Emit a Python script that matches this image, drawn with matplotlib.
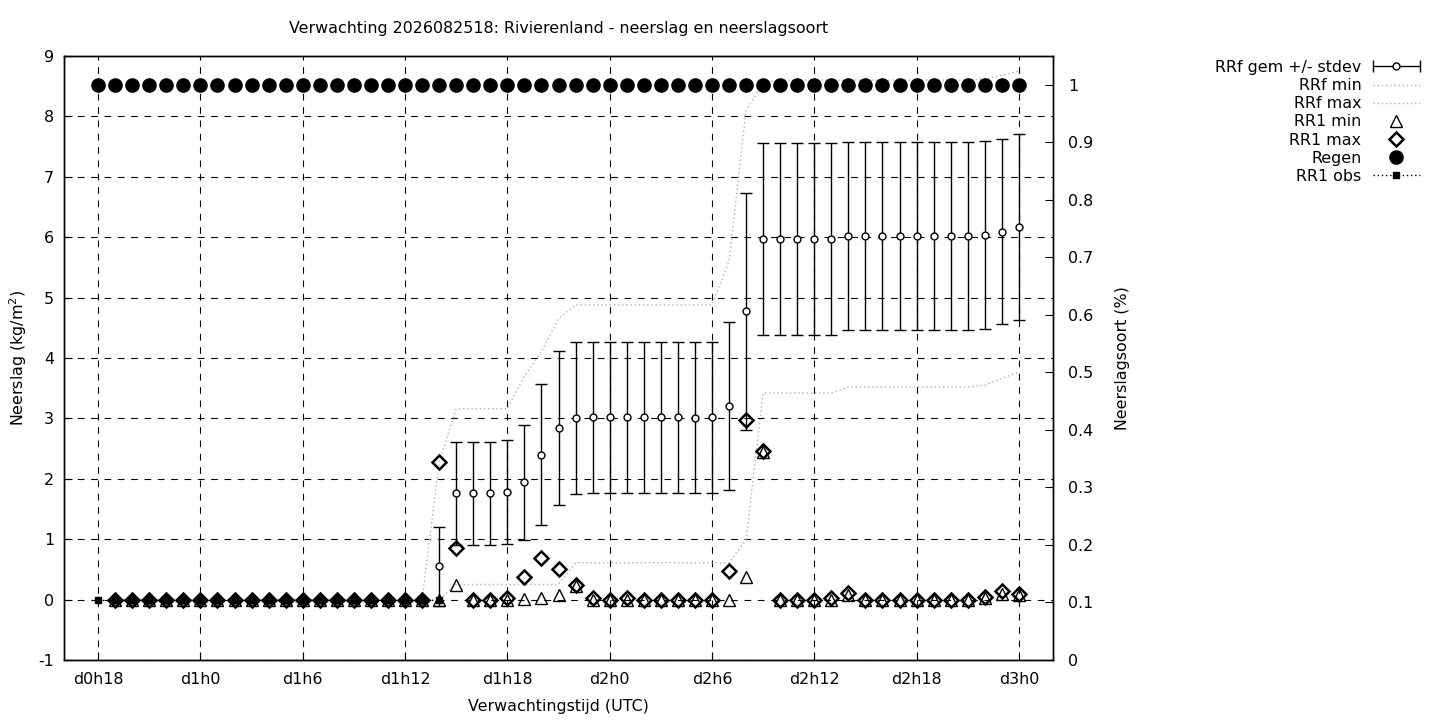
import numpy as np
import matplotlib
matplotlib.use("Agg")
import matplotlib.pyplot as plt
from matplotlib.lines import Line2D
from matplotlib.legend_handler import HandlerLine2D

# hours since d0h0
hours = list(range(18, 73))
rr_hours = list(range(19, 73))
obs_hours = list(range(18, 39))
tick_hours = [18, 24, 30, 36, 42, 48, 54, 60, 66, 72]

# neerslagsoort (fraction), one per hour d0h18 .. d3h0
regen = [1, 1, 1, 1, 1, 1,
         1, 1, 1, 1, 1, 1,
         1, 1, 1, 1, 1, 1,
         1, 1, 1, 1, 1, 1,
         1, 1, 1, 1, 1, 1,
         1, 1, 1, 1, 1, 1,
         1, 1, 1, 1, 1, 1,
         1, 1, 1, 1, 1, 1,
         1, 1, 1, 1, 1, 1,
         1]

# observed hourly precipitation d0h18 .. d1h14
rr1_obs = [0, 0, 0, 0, 0, 0,
           0, 0, 0, 0, 0, 0,
           0, 0, 0, 0, 0, 0,
           0, 0, 0]

# hourly values d0h19 .. d3h0
rr1_max = [0, 0, 0, 0, 0,
           0, 0, 0, 0, 0, 0,
           0, 0, 0, 0, 0, 0,
           0, 0, 2.27, 0.85, 0, 0,
           0.02, 0.37, 0.69, 0.50, 0.24, 0.02,
           0, 0.03, 0, 0, 0, 0,
           0, 0.47, 2.98, 2.46, 0, 0,
           0, 0.02, 0.11, 0, 0, 0,
           0, 0, 0, 0, 0.04, 0.14,
           0.09]
rr1_min = [0, 0, 0, 0, 0,
           0, 0, 0, 0, 0, 0,
           0, 0, 0, 0, 0, 0,
           0, 0, 0, 0.25, 0, 0,
           0, 0.01, 0.03, 0.08, 0.22, 0,
           0, 0, 0, 0, 0, 0,
           0, 0, 0.38, 2.44, 0, 0,
           0, 0, 0.07, 0, 0, 0,
           0, 0, 0, 0, 0.02, 0.09,
           0.07]

# cumulative forecast d0h19 .. d3h0
rrf_mean = [0, 0, 0, 0, 0,
            0, 0, 0, 0, 0, 0,
            0, 0, 0, 0, 0, 0,
            0, 0, 0.55, 1.76, 1.76, 1.76,
            1.78, 1.94, 2.40, 2.84, 3.01, 3.02,
            3.02, 3.02, 3.02, 3.02, 3.02, 3.01,
            3.02, 3.21, 4.77, 5.97, 5.97, 5.97,
            5.97, 5.97, 6.02, 6.02, 6.02, 6.02,
            6.02, 6.02, 6.02, 6.02, 6.04, 6.09,
            6.17]
rrf_std = [0, 0, 0, 0, 0,
           0, 0, 0, 0, 0, 0,
           0, 0, 0, 0, 0, 0,
           0, 0, 0.66, 0.85, 0.85, 0.85,
           0.86, 0.95, 1.17, 1.27, 1.26, 1.25,
           1.25, 1.25, 1.25, 1.25, 1.25, 1.25,
           1.25, 1.39, 1.97, 1.59, 1.59, 1.59,
           1.59, 1.59, 1.56, 1.56, 1.56, 1.56,
           1.56, 1.56, 1.56, 1.56, 1.56, 1.53,
           1.54]
rrf_min = [0, 0, 0, 0, 0,
           0, 0, 0, 0, 0, 0,
           0, 0, 0, 0, 0, 0,
           0, 0, 0, 0.25, 0.25, 0.25,
           0.25, 0.25, 0.25, 0.25, 0.61, 0.61,
           0.61, 0.61, 0.61, 0.61, 0.61, 0.61,
           0.61, 0.61, 0.99, 3.42, 3.42, 3.42,
           3.42, 3.42, 3.52, 3.52, 3.52, 3.52,
           3.52, 3.52, 3.52, 3.52, 3.55, 3.66,
           3.77]
rrf_max = [0, 0, 0, 0, 0,
           0, 0, 0, 0, 0, 0,
           0, 0, 0, 0, 0, 0,
           0, 0, 2.27, 3.16, 3.16, 3.16,
           3.16, 3.70, 4.10, 4.65, 4.88, 4.88,
           4.88, 4.88, 4.88, 4.88, 4.88, 4.88,
           4.88, 5.60, 8.10, 8.55, 8.60, 8.60,
           8.60, 8.60, 8.60, 8.60, 8.60, 8.60,
           8.60, 8.60, 8.60, 8.60, 8.62, 8.68,
           8.75]


def hour_label(h):
    return f"d{h // 24}h{h % 24}"


plt.rcParams['font.family'] = ['DejaVu Sans']
plt.rcParams['font.size'] = 11.4
plt.rcParams['axes.unicode_minus'] = False

fig = plt.figure(figsize=(14.4, 7.2), dpi=100)
ax = fig.add_axes([64 / 1440, 60 / 720, (1053 - 64) / 1440, (660 - 56) / 720])
ax2 = ax.twinx()

dotted_grey = dict(color='#b0b0b0', lw=1, linestyle=(0, (1, 2)))

ax.errorbar(rr_hours, rrf_mean, yerr=rrf_std, fmt='o', color='k',
            ecolor='k', elinewidth=1, capsize=4.3, capthick=1,
            mfc='white', mec='k', ms=5, mew=1, zorder=3)
ax.plot(rr_hours, rrf_min, zorder=2, **dotted_grey)
ax.plot(rr_hours, rrf_max, zorder=2, **dotted_grey)
ax.plot(rr_hours, rr1_min, linestyle='none', marker='^', ms=9,
        mfc='none', mec='k', mew=1, zorder=4)
ax.plot(rr_hours, rr1_max, linestyle='none', marker='D', ms=7,
        mfc='none', mec='k', mew=1.8, zorder=5)
ax.plot(obs_hours, rr1_obs, color='k', lw=1, linestyle=(0, (1, 2)),
        marker='s', ms=5, mfc='k', mec='k', zorder=6)
ax2.plot(hours, regen, linestyle='none', marker='o', ms=9.5, color='k')

ax.set_xlim(16, 74)
ax.set_ylim(-1, 9)
ax.set_yticks(range(-1, 10))
ax.set_xticks(tick_hours)
ax.set_xticklabels([hour_label(h) for h in tick_hours])
ax2.set_ylim(0, 1.05)
ax2.set_yticks([i / 10 for i in range(11)])
ax2.set_yticklabels(["0", "0.1", "0.2", "0.3", "0.4", "0.5",
                     "0.6", "0.7", "0.8", "0.9", "1"])

ax.set_axisbelow(True)
ax.grid(True, color='black', linestyle=(0, (6, 6)), linewidth=0.8)
ax.tick_params(axis='y', direction='in', length=6, pad=7, right=False)
ax.tick_params(axis='x', direction='in', length=6, pad=9)
ax2.tick_params(axis='y', direction='in', length=6, pad=11)
for a in (ax, ax2):
    for s in a.spines.values():
        s.set_linewidth(1)

fig.text(558.5 / 1440, 1 - 28 / 720,
         "Verwachting 2026082518: Rivierenland - neerslag en neerslagsoort",
         ha='center', va='center')
fig.text(558.5 / 1440, 1 - 706 / 720, "Verwachtingstijd (UTC)",
         ha='center', va='center')
fig.text(18 / 1440, 1 - 358 / 720, "Neerslag (kg/m$^2$)",
         ha='center', va='center', rotation=90)
fig.text(1123 / 1440, 1 - 358 / 720, "Neerslagsoort (%)",
         ha='center', va='center', rotation=90)

# legend in gnuplot style: text first, sample after
h_mean = Line2D([], [], color='k', lw=1, marker='o', mfc='white', mec='k', ms=5)
h_caps = Line2D([], [], color='none', linestyle='none', marker='|',
                mec='k', ms=8, mew=1)
h_min = Line2D([], [], **dotted_grey)
h_max = Line2D([], [], **dotted_grey)
h_tri = Line2D([], [], linestyle='none', marker='^', ms=9, mfc='none', mec='k')
h_dia = Line2D([], [], linestyle='none', marker='D', ms=7, mfc='none',
               mec='k', mew=1.8)
h_reg = Line2D([], [], linestyle='none', marker='o', ms=9.5, color='k')
h_obs = Line2D([], [], color='k', lw=1, linestyle=(0, (1, 2)), marker='s',
               ms=5, mfc='k', mec='k')
fig.legend([(h_mean, h_caps), h_min, h_max, h_tri, h_dia, h_reg, h_obs],
           ["RRf gem +/- stdev", "RRf min", "RRf max", "RR1 min",
            "RR1 max", "Regen", "RR1 obs"],
           loc='upper right', bbox_to_anchor=(1420 / 1440, 1 - 60 / 720),
           frameon=False, markerfirst=False, numpoints=1,
           handlelength=3.0, handletextpad=0.7, labelspacing=0.2,
           borderpad=0, borderaxespad=0,
           handler_map={h_caps: HandlerLine2D(numpoints=2, marker_pad=0)})

fig.savefig("out.png", dpi=100)
